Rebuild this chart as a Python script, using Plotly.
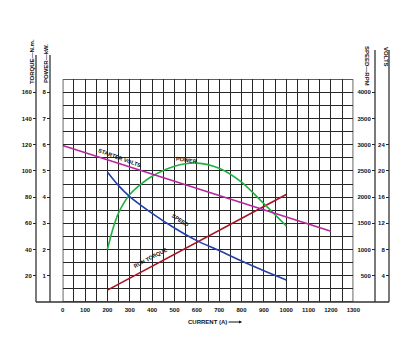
import plotly.graph_objects as go

# ---- data ----
current_ticks = list(range(0, 1400, 100))
torque_ticks = [20, 40, 60, 80, 100, 120, 140, 160]
power_ticks = [1, 2, 3, 4, 5, 6, 7, 8]
speed_ticks = [500, 1000, 1500, 2000, 2500, 3000, 3500, 4000]
volts_ticks = [4, 8, 12, 16, 20, 24]

torque_current = [200, 600, 1000]
run_torque = [9, 45.5, 82]

power_current = [200, 225, 250, 300, 350, 400, 500, 600, 700, 800, 900, 1000]
power_kw = [2.0, 2.8, 3.4, 4.1, 4.5, 4.8, 5.18, 5.3, 5.1, 4.57, 3.75, 2.9]

speed_current = [200, 250, 300, 400, 500, 600, 700, 800, 900, 1000]
speed_rpm = [2480, 2220, 2010, 1690, 1410, 1170, 980, 780, 595, 420]

volts_current = [0, 600, 1200]
starter_volts = [23.9, 17.4, 10.8]

W, H = 410, 354
def px(x):
    return x / W
def py(y):
    return 1 - y / H

FONT = "Liberation Sans, Arial, sans-serif"
TXT = "#111111"
GRID = "#262626"

X0, X1 = px(62.7), px(353.3)
Y0, Y1 = py(301.9), py(79.3)

fig = go.Figure()

fig.add_trace(go.Scatter(x=volts_current, y=starter_volts, yaxis="y5", mode="lines",
                         line=dict(color="#b5279e", width=1.6), hoverinfo="skip"))
fig.add_trace(go.Scatter(x=power_current, y=power_kw, yaxis="y3", mode="lines",
                         line=dict(color="#1fb040", width=1.6, shape="spline", smoothing=0.8),
                         hoverinfo="skip"))
fig.add_trace(go.Scatter(x=speed_current, y=speed_rpm, yaxis="y4", mode="lines",
                         line=dict(color="#2340a8", width=1.6, shape="spline", smoothing=1.0),
                         hoverinfo="skip"))
fig.add_trace(go.Scatter(x=torque_current, y=run_torque, yaxis="y2", mode="lines",
                         line=dict(color="#a8101e", width=1.6), hoverinfo="skip"))

tickfont = dict(family=FONT, size=6, color=TXT, weight="bold")

common_y = dict(overlaying="y", anchor="free", side="left", showgrid=False,
                zeroline=False, showline=False, ticks="outside", ticklen=3,
                tickwidth=1, tickcolor="#222", tickfont=tickfont, automargin=False,
                tickmode="array")

fig.update_layout(
    width=W, height=H,
    margin=dict(l=0, r=0, t=0, b=0),
    paper_bgcolor="white", plot_bgcolor="white",
    showlegend=False,
    xaxis=dict(domain=[X0, X1], range=[0, 1300], tickmode="array",
               tickvals=current_ticks, ticktext=[str(v) for v in current_ticks],
               showgrid=True, gridcolor=GRID, gridwidth=1.3,
               minor=dict(dtick=50, tick0=0, showgrid=True, gridcolor=GRID, gridwidth=1.3),
               zeroline=False, showline=False, ticks="", tickfont=tickfont,
               automargin=False, anchor="y", ticklabelstandoff=3),
    yaxis=dict(domain=[Y0, Y1], range=[0, 170], dtick=10, tick0=0,
               showgrid=True, gridcolor=GRID, gridwidth=1.3,
               showticklabels=False, ticks="", zeroline=False, showline=False,
               automargin=False, anchor="x"),
    yaxis2=dict(range=[0, 170], tickvals=torque_ticks, position=px(36), **common_y),
    yaxis3=dict(range=[0, 8.5], tickvals=power_ticks, position=px(50), **common_y),
    yaxis4=dict(range=[0, 4250], tickvals=speed_ticks, position=px(375), **common_y),
    yaxis5=dict(range=[0, 34], tickvals=volts_ticks, position=px(389), **common_y),
)

shapes = []
# grid frame
shapes.append(dict(type="rect", xref="x", yref="y", x0=0, x1=1300, y0=0, y1=170,
                   line=dict(color=GRID, width=1.4)))
# axis lines
for xp, ytop in [(36, 55), (50, 55), (375, 50), (389, 50)]:
    shapes.append(dict(type="line", xref="paper", yref="paper", x0=px(xp), x1=px(xp),
                       y0=py(302), y1=py(ytop), line=dict(color="#333", width=1.3)))
# baseline
shapes.append(dict(type="line", xref="paper", yref="paper", x0=px(36), x1=px(389),
                   y0=py(302), y1=py(302), line=dict(color="#333", width=1.3)))
fig.update_layout(shapes=shapes)

ann = []
def label(text, x, y, angle=0, size=6):
    ann.append(dict(text=text, x=px(x), y=py(y), xref="paper", yref="paper",
                    showarrow=False, textangle=angle,
                    font=dict(family=FONT, size=size, color=TXT, weight="bold"),
                    xanchor="center", yanchor="middle"))

label("TORQUE—N.m.", 32, 62, -90)
label("POWER—kW.", 46, 64, -90)
label("SPEED—RPM", 367, 66, 90)
label("VOLTS", 386, 57, 90)
label("CURRENT (A)", 207, 322)
label("STARTER VOLTS", 120, 158, 20, 5.5)
label("POWER", 186, 160, 8, 5.5)
label("SPEED", 180, 220, 33, 5.5)
label("RUN TORQUE", 150, 258, -28, 5.5)

ann.append(dict(x=px(242), y=py(322), xref="paper", yref="paper", ax=-15, ay=0,
                axref="pixel", ayref="pixel", text="", showarrow=True,
                arrowhead=2, arrowsize=0.6, arrowwidth=1, arrowcolor=TXT))
fig.update_layout(annotations=ann)

fig.write_html("out.html")
